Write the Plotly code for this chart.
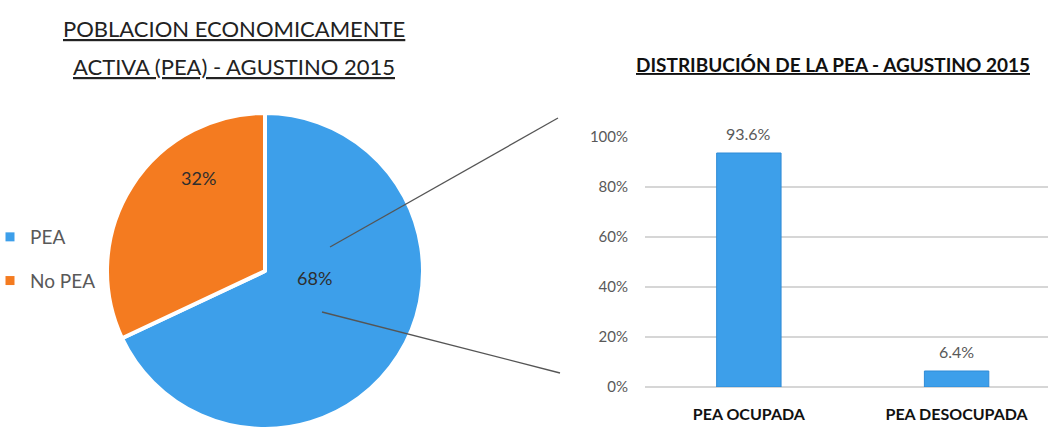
import plotly.graph_objects as go

# Economically active population split
pie_labels = ["PEA", "No PEA"]
pie_values = [68, 32]
pie_colors = ["#3D9FEA", "#F47B20"]

# Breakdown of the active population
bar_categories = ["PEA OCUPADA", "PEA DESOCUPADA"]
bar_values = [0.936, 0.064]

W, H = 1048, 429

fig = go.Figure()

fig.add_trace(go.Pie(
    labels=pie_labels,
    values=pie_values,
    sort=False,
    direction="clockwise",
    rotation=0,
    marker=dict(colors=pie_colors, line=dict(color="white", width=4)),
    textinfo="none",
    domain=dict(x=[107 / W, 423 / W], y=[0.0, 1 - 113 / H]),
    showlegend=False,
    hoverinfo="label+percent",
))

fig.add_trace(go.Bar(
    x=bar_categories,
    y=bar_values,
    marker=dict(color="#3D9FEA", line=dict(color="#2F8BD6", width=1)),
    width=0.31,
    showlegend=False,
    hoverinfo="x+y",
    xaxis="x", yaxis="y",
))

# Legend entries for the pie slices (empty traces, one group each for spacing)
for name, color in zip(pie_labels, pie_colors):
    fig.add_trace(go.Scatter(
        x=[None], y=[None], mode="markers", name=name,
        marker=dict(symbol="square", size=9, color=color),
        legendgroup=name, showlegend=True,
        xaxis="x", yaxis="y",
    ))

# Percentage labels on the pie slices
total = sum(pie_values)
pie_label_pos = [(314, 278), (198, 178)]
for v, (px, py) in zip(pie_values, pie_label_pos):
    fig.add_annotation(
        text=f"{v / total:.0%}", x=px / W, y=1 - py / H,
        xref="paper", yref="paper", xanchor="center", yanchor="middle",
        showarrow=False, font=dict(family="Lato", size=18, color="#2E2E2E"),
    )

# Value labels above the bars, on a white box that breaks the gridline
for cat, v in zip(bar_categories, bar_values):
    fig.add_annotation(
        text=f"{v:.1%}", x=cat, y=v, xref="x", yref="y",
        xanchor="center", yanchor="bottom", yshift=6,
        showarrow=False, bgcolor="white", borderpad=3,
        font=dict(family="Lato", size=16, color="#595959"),
    )

fig.update_layout(
    width=W, height=H,
    margin=dict(l=0, r=0, t=0, b=0, autoexpand=False),
    paper_bgcolor="white",
    plot_bgcolor="white",
    font=dict(family="Lato", color="#595959"),
    showlegend=True,
    legend=dict(
        x=-10 / W, y=1 - 259 / H, xanchor="left", yanchor="middle",
        font=dict(family="Lato", size=19, color="#595959"),
        bgcolor="rgba(0,0,0,0)",
        tracegroupgap=16,
    ),
    xaxis=dict(
        type="category",
        categoryorder="array",
        categoryarray=bar_categories,
        domain=[645 / W, 1.0],
        range=[-0.5, 1.44],
        showgrid=False,
        showline=False,
        zeroline=False,
        ticks="",
        ticklabelstandoff=16,
        tickfont=dict(family="Lato", size=16, color="#111111", weight="bold"),
        fixedrange=True,
    ),
    yaxis=dict(
        domain=[1 - 387 / H, 1 - 137 / H],
        range=[0, 1],
        dtick=0.2,
        tickformat=".0%",
        showgrid=True,
        gridcolor="#D6D6D6",
        gridwidth=2,
        zeroline=True,
        zerolinecolor="#D6D6D6",
        zerolinewidth=2,
        showline=False,
        ticks="",
        ticklabelstandoff=16,
        tickfont=dict(family="Lato", size=15, color="#595959"),
        fixedrange=True,
    ),
)

# Titles
fig.add_annotation(
    text="<u>POBLACION ECONOMICAMENTE</u>",
    x=234 / W, y=1 - 28 / H, xref="paper", yref="paper",
    xanchor="center", yanchor="middle",
    showarrow=False, font=dict(family="Lato", size=22, color="#222222"),
)
fig.add_annotation(
    text="<u>ACTIVA (PEA) - AGUSTINO 2015</u>",
    x=234 / W, y=1 - 66 / H, xref="paper", yref="paper",
    xanchor="center", yanchor="middle",
    showarrow=False, font=dict(family="Lato", size=22, color="#222222"),
)
fig.add_annotation(
    text="<u><b>DISTRIBUCIÓN DE LA PEA - AGUSTINO 2015</b></u>",
    x=833 / W, y=1 - 64 / H, xref="paper", yref="paper",
    xanchor="center", yanchor="middle",
    showarrow=False, font=dict(family="Lato", size=19, color="#111111"),
)

# Connector lines from the active slice to the breakdown chart
for (x0, y0, x1, y1) in [(330, 247, 558, 118), (322, 312, 560, 373)]:
    fig.add_shape(
        type="line", xref="paper", yref="paper",
        x0=x0 / W, y0=1 - y0 / H, x1=x1 / W, y1=1 - y1 / H,
        line=dict(color="#555555", width=1.3),
    )

fig.write_html("out.html")
